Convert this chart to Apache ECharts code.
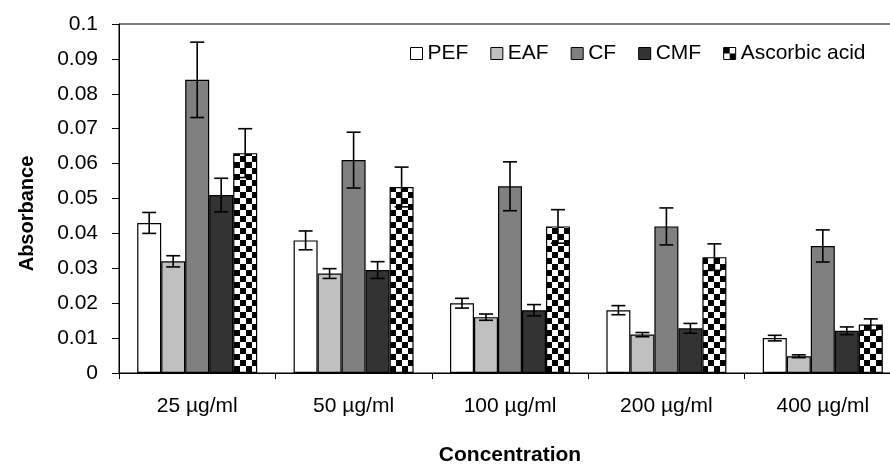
<!DOCTYPE html>
<html>
<head>
<meta charset="utf-8">
<script src="https://cdn.jsdelivr.net/npm/echarts@6/dist/echarts.min.js"></script>
<style>
html,body{margin:0;padding:0;background:#fff;}
#chart{width:890px;height:465px;}
</style>
</head>
<body>
<div id="chart"></div>
<script>
const categories = ['25 µg/ml', '50 µg/ml', '100 µg/ml', '200 µg/ml', '400 µg/ml'];
const seriesNames = ['PEF', 'EAF', 'CF', 'CMF', 'Ascorbic acid'];
const PEF = [0.043, 0.038, 0.020, 0.018, 0.010];
const PEF_err = [0.0030, 0.0027, 0.0014, 0.0013, 0.0008];
const EAF = [0.032, 0.0285, 0.016, 0.011, 0.0048];
const EAF_err = [0.0016, 0.0014, 0.0009, 0.0006, 0.0004];
const CF = [0.084, 0.061, 0.0535, 0.042, 0.0364];
const CF_err = [0.0108, 0.0080, 0.0070, 0.0053, 0.0046];
const CMF = [0.051, 0.0295, 0.018, 0.0128, 0.0121];
const CMF_err = [0.0048, 0.0024, 0.0016, 0.0014, 0.0011];
const ASC = [0.063, 0.0533, 0.042, 0.0332, 0.0139];
const ASC_err = [0.0070, 0.0057, 0.0048, 0.0038, 0.0016];

const values = [PEF, EAF, CF, CMF, ASC];
const errors = [PEF_err, EAF_err, CF_err, CMF_err, ASC_err];

// checkerboard pattern
const pc = document.createElement('canvas');
pc.width = 12; pc.height = 12;
const pctx = pc.getContext('2d');
pctx.fillStyle = '#fff'; pctx.fillRect(0, 0, 12, 12);
pctx.fillStyle = '#000';
pctx.fillRect(0, 0, 6, 6);
pctx.fillRect(6, 6, 6, 6);

const fills = ['#ffffff', '#c0c0c0', '#808080', '#333333', {image: pc, repeat: 'repeat'}];
const BAR_W = 24;
const FONT = '"Liberation Sans", Arial, sans-serif';

const series = [];
values.forEach((v, i) => {
  series.push({
    name: seriesNames[i],
    type: 'bar',
    data: v,
    barWidth: BAR_W,
    barGap: '0%',
    itemStyle: {color: fills[i], borderColor: '#000', borderWidth: 1.2},
    emphasis: {disabled: true},
    animation: false
  });
});
values.forEach((v, i) => {
  series.push({
    name: 'err_' + i,
    type: 'custom',
    data: v.map((val, k) => [k, val, errors[i][k]]),
    z: 10,
    animation: false,
    renderItem: function (params, api) {
      const k = api.value(0), val = api.value(1), e = api.value(2);
      const top = api.coord([k, val + e]);
      const bot = api.coord([k, val - e]);
      const x = top[0] + (i - 2) * BAR_W;
      const cap = 7;
      const st = {stroke: '#000', lineWidth: 1.6};
      return {
        type: 'group',
        children: [
          {type: 'line', shape: {x1: x, y1: top[1], x2: x, y2: bot[1]}, style: st},
          {type: 'line', shape: {x1: x - cap, y1: top[1], x2: x + cap, y2: top[1]}, style: st},
          {type: 'line', shape: {x1: x - cap, y1: bot[1], x2: x + cap, y2: bot[1]}, style: st}
        ]
      };
    }
  });
});

const chart = echarts.init(document.getElementById('chart'), null, {renderer: 'canvas'});
chart.setOption({
  backgroundColor: '#fff',
  animation: false,
  textStyle: {fontFamily: FONT, color: '#000'},
  grid: {left: 119, top: 24, width: 782, height: 349, show: true, borderColor: '#000', borderWidth: 1,
         containLabel: false, outerBoundsMode: 'none'},
  legend: {
    data: seriesNames,
    left: 410, top: 43,
    itemWidth: 12, itemHeight: 12, itemGap: 22,
    padding: 0,
    icon: 'rect',
    textStyle: {fontSize: 21, fontFamily: FONT, color: '#000'},
    itemStyle: {borderColor: '#000', borderWidth: 1}
  },
  xAxis: {
    type: 'category',
    data: categories,
    name: 'Concentration',
    nameLocation: 'middle',
    nameGap: 72,
    nameTextStyle: {fontSize: 21, fontWeight: 'bold', fontFamily: FONT, color: '#000'},
    axisLine: {lineStyle: {color: '#000', width: 1}},
    axisTick: {show: true, length: 6, lineStyle: {color: '#000'}},
    axisLabel: {fontSize: 21, margin: 23, color: '#000', fontFamily: FONT}
  },
  yAxis: {
    type: 'value',
    min: 0, max: 0.1, interval: 0.01,
    name: 'Absorbance',
    nameLocation: 'middle',
    nameGap: 82,
    nameRotate: 90,
    nameTextStyle: {fontSize: 20, fontWeight: 'bold', fontFamily: FONT, color: '#000', padding: [0, 0, 0, -30]},
    axisLine: {show: true, lineStyle: {color: '#000', width: 1}},
    axisTick: {show: true, length: 7, lineStyle: {color: '#000'}},
    splitLine: {show: false},
    axisLabel: {fontSize: 21, margin: 21, color: '#000', fontFamily: FONT}
  },
  series: series
});
</script>
</body>
</html>
